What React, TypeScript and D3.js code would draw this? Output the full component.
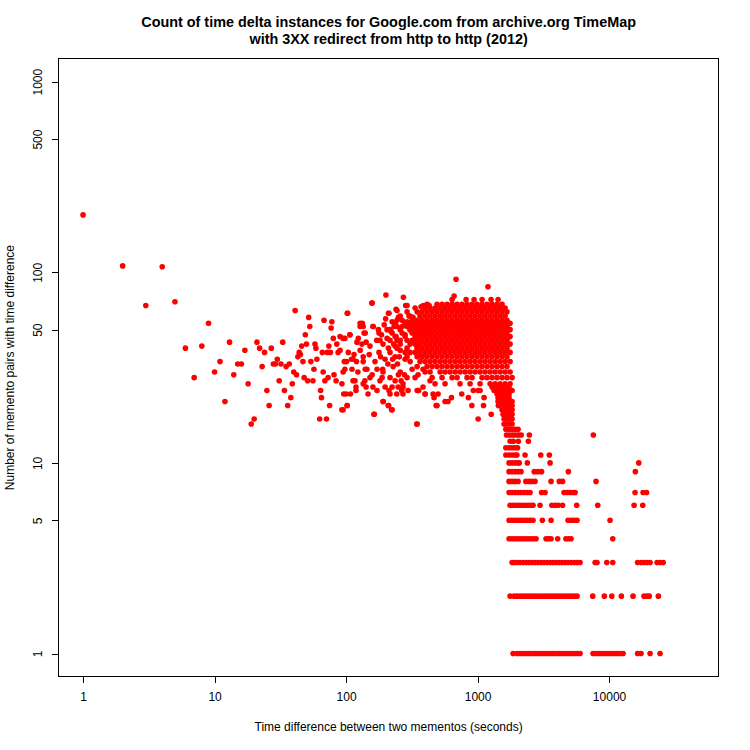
import * as d3 from "d3";
import { useEffect, useRef } from "react";

// values: [seconds between mementos, number of pairs]
const sparseLeft: [number, number][] = [
  [1, 200], [2, 108], [3, 67], [4, 107], [5, 70], [6, 40], [7, 28], [8, 41], [9, 54], [10, 30],
  [11, 34], [12, 21], [13, 43], [14, 29], [15, 33], [16, 33], [17, 39], [18, 26], [19, 16], [20, 17],
  [21, 43], [22, 40], [23, 32], [24, 38], [25, 24], [26, 20], [27, 40], [28, 33], [29, 33], [30, 35],
  [31, 27], [32, 33], [33, 43], [34, 24], [35, 32], [36, 20], [37, 33], [38, 22], [39, 26], [40, 30],
  [41, 63], [42, 29], [43, 36], [44, 38], [45, 37], [46, 41], [47, 34], [48, 28], [49, 47], [50, 42],
  [51, 27], [52, 58], [53, 52], [54, 34],
];

const midCloud: [number, number][] = [
  [56, 27], [57, 31], [58, 42], [59, 40], [60, 35], [63, 17], [64, 24], [65, 22], [66, 38], [67, 30],
  [68, 56], [69, 27], [71, 17], [72, 38], [73, 28], [74, 41], [75, 20], [76, 38], [77, 51], [78, 55],
  [80, 45], [81, 29], [84, 27], [85, 42], [87, 38], [90, 46], [93, 19], [95, 30], [96, 23], [98, 45],
  [100, 23], [101, 34], [102, 20], [103, 61], [107, 47], [108, 23], [110, 35], [115, 37], [117, 27],
  [119, 24], [120, 34], [124, 45], [128, 52], [132, 42], [133, 54], [135, 34], [137, 48], [139, 27],
  [142, 25], [144, 31], [152, 28], [157, 69], [161, 52], [164, 18], [171, 44], [172, 24], [176, 50],
  [181, 27], [190, 31], [192, 21], [201, 76], [210, 61], [211, 20], [212, 24], [222, 19], [236, 27],
  [240, 64], [243, 23], [265, 24], [273, 74], [284, 67], [335, 28], [345, 16], [357, 24], [387, 67],
  [399, 23], [102, 61], [158, 69], [212, 61], [244, 63], [291, 67], [301, 59], [372, 66], [428, 67],
  [128, 54], [135, 52], [160, 52], [178, 48], [205, 50], [224, 55], [244, 56], [267, 52], [291, 55],
  [323, 58], [353, 54], [95, 45], [107, 47], [121, 43], [140, 48], [142, 43], [152, 41], [181, 44],
  [191, 42], [216, 44], [236, 41], [258, 44], [281, 47], [307, 50], [335, 48], [378, 51], [90, 39],
  [104, 38], [113, 35], [128, 39], [135, 36], [150, 37], [166, 34], [178, 38], [198, 35], [216, 38],
  [236, 36], [258, 39], [281, 35], [307, 38], [347, 41], [378, 36], [97, 34], [98, 31], [111, 31],
  [123, 30], [140, 31], [158, 29], [172, 31], [191, 30], [216, 28], [228, 32], [258, 30], [291, 28],
  [318, 31], [353, 29], [385, 31], [93, 26], [113, 27], [119, 25], [135, 26], [147, 23], [160, 25],
  [188, 28], [198, 25], [216, 23], [224, 25], [249, 25], [271, 26], [296, 24], [347, 24], [385, 25],
  [435, 27], [95, 19], [102, 20], [191, 21], [209, 20], [224, 19], [163, 18], [347, 16], [459, 23],
  [492, 20], [200, 57], [205, 45], [210, 40], [220, 49], [226, 35], [232, 52], [240, 46], [246, 33],
  [250, 58], [254, 36], [230, 42], [208, 33], [195, 53], [186, 47], [183, 36], [250, 29], [262, 27],
  [278, 29],
];

const cloudEdge: [number, number][] = [
  [271, 25], [271, 23], [353, 24], [399, 23], [467, 22], [501, 23], [484, 20], [566, 21], [596, 21],
  [633, 22], [758, 23], [851, 22], [905, 20], [928, 24], [1010, 24], [1045, 24], [1121, 22],
  [1110, 20], [1270, 18], [1010, 17], [1440, 20], [663, 75], [686, 92], [1200, 84],
];

// the dense block: one list of seconds per count
const coreCounts = [72, 68, 65, 62, 59, 56, 54, 52, 50, 48, 46, 44, 42, 40, 38, 36, 34, 32, 30, 28, 26];
const coreSeconds: number[][] = [
  [640, 818, 941, 1082, 1267, 1432],
  [413, 492, 537, 586, 640, 699, 762, 832, 908, 991, 1082, 1181, 1289, 1407, 1536],
  [335, 399, 435, 475, 519, 566, 618, 675, 736, 804, 877, 957, 1045, 1140, 1245, 1359, 1483, 1619],
  [291, 347, 378, 413, 451, 492, 537, 586, 640, 699, 762, 832, 908, 991, 1082, 1181, 1289, 1407, 1536, 1676],
  [258, 307, 365, 399, 435, 475, 519, 566, 618, 675, 736, 804, 877, 957, 1045, 1140, 1245, 1359, 1483, 1619],
  [267, 318, 347, 378, 413, 451, 492, 537, 586, 640, 699, 762, 832, 908, 991, 1082, 1181, 1289, 1407, 1536, 1676],
  [236, 281, 307, 335, 365, 399, 435, 475, 519, 566, 618, 675, 736, 804, 877, 957, 1045, 1140, 1245, 1359, 1483, 1619, 1767],
  [244, 291, 318, 347, 378, 413, 451, 492, 537, 586, 640, 699, 762, 832, 908, 991, 1082, 1181, 1289, 1407, 1536, 1676],
  [216, 258, 307, 335, 365, 399, 435, 475, 519, 566, 618, 675, 736, 804, 877, 957, 1045, 1140, 1245, 1359, 1483, 1619, 1767],
  [224, 267, 318, 347, 378, 413, 451, 492, 537, 586, 640, 699, 762, 832, 908, 991, 1082, 1181, 1289, 1407, 1536, 1676],
  [236, 281, 335, 365, 399, 435, 475, 519, 566, 618, 675, 736, 804, 877, 957, 1045, 1140, 1245, 1359, 1483, 1619, 1767],
  [244, 291, 318, 347, 378, 413, 451, 492, 537, 586, 640, 699, 762, 832, 908, 991, 1082, 1181, 1289, 1407, 1536, 1676],
  [258, 307, 335, 365, 399, 435, 475, 519, 566, 618, 675, 736, 804, 877, 957, 1045, 1140, 1245, 1359, 1483, 1619, 1767],
  [244, 291, 347, 378, 413, 451, 492, 537, 586, 640, 699, 762, 832, 908, 991, 1082, 1181, 1289, 1407, 1536, 1676],
  [281, 335, 365, 399, 435, 475, 519, 566, 618, 675, 736, 804, 877, 957, 1045, 1140, 1245, 1359, 1483, 1619, 1767],
  [291, 347, 378, 413, 451, 492, 537, 586, 640, 699, 762, 832, 908, 991, 1082, 1181, 1289, 1407, 1536, 1676],
  [307, 365, 399, 435, 475, 519, 566, 618, 675, 736, 804, 877, 957, 1045, 1140, 1245, 1359, 1483, 1619, 1767],
  [347, 413, 451, 492, 537, 586, 640, 699, 762, 832, 908, 991, 1082, 1181, 1289, 1407, 1536, 1676],
  [399, 435, 519, 566, 618, 675, 736, 804, 877, 957, 1045, 1140, 1245, 1359, 1483, 1619, 1767],
  [451, 537, 640, 699, 832, 908, 1082, 1181, 1289, 1407, 1536, 1676, 1830],
  [475, 566, 736, 877, 1045, 1245, 1359, 1483, 1619, 1767],
];

// narrow tail where the counts fall off
const tailCounts = [25, 24, 23, 22, 21, 20, 19, 18, 17, 16, 15];
const tailSeconds: number[][] = [
  [1289, 1407, 1483, 1563, 1647, 1736],
  [1335, 1407, 1483, 1563, 1647, 1736, 1830],
  [1407, 1483, 1563, 1647, 1736],
  [1432, 1483, 1563, 1647, 1736],
  [1432, 1535, 1591, 1647, 1736, 1830],
  [1483, 1563, 1647, 1736, 1830],
  [1535, 1591, 1647, 1706, 1767, 1830],
  [1563, 1647, 1736, 1830],
  [1591, 1647, 1706, 1767, 1830],
  [1591, 1647, 1736, 1830],
  [1641, 1736, 1830, 1929, 2033],
];

// the horizontal bands of small counts
const lowCounts = [1, 2, 3, 4, 5, 6, 7, 8, 9, 10, 11, 12, 13, 14];
const lowSeconds: number[][] = [
  [1862, 1997, 2105, 2218, 2338, 2464, 2596, 2736, 2884, 3040, 3204, 3377, 3559, 3751, 3953, 4167, 4392,
    4629, 4878, 5141, 5419, 5711, 6019, 7553, 7962, 8393, 8846, 9324, 9826, 10357, 10915, 11505, 12126,
    12780, 16477, 17512, 20504, 24423],
  [1767, 1895, 1997, 2105, 2218, 2338, 2464, 2596, 2736, 2884, 3040, 3204, 3377, 3559, 3751, 3953, 4167,
    4392, 4629, 4878, 5141, 5419, 5711, 7516, 9211, 10484, 12406, 15220, 18454, 19453, 20200, 23708],
  [1830, 1895, 1997, 2105, 2218, 2338, 2464, 2596, 2736, 2884, 3040, 3204, 3377, 3559, 3751, 3953, 4167,
    4392, 4629, 4878, 5141, 5419, 5711, 6019, 7829, 8102, 9606, 10669, 16477, 17512, 18454, 19453,
    20504, 23175, 24423, 25800],
  [1736, 1830, 1929, 2033, 2142, 2258, 2379, 2507, 2642, 2785, 3318, 3466, 3622, 4066, 4694, 4921, 5141, 10669],
  [1736, 1830, 1929, 2033, 2142, 2258, 2379, 2507, 2642, 3110, 3622, 4878, 5141, 5419, 5711, 10177],
  [1767, 1862, 1963, 2068, 2180, 2297, 2421, 2551, 2642, 2987, 3673, 3885, 4095, 4430, 5671, 8202, 15497, 18039],
  [1736, 1830, 1929, 2033, 2142, 2258, 2379, 2507, 3067, 3260, 4548, 4794, 5052, 5324, 5514, 15771, 18136, 19284],
  [1736, 1830, 1929, 2033, 2330, 2464, 2596, 2736, 3622, 4183, 4430, 7962],
  [1736, 1830, 1929, 2033, 2142, 2698, 2873, 3067, 4904, 15848],
  [1736, 1830, 1929, 2033, 2075, 2392, 3559, 16823],
  [1641, 1736, 1830, 1929, 1991, 2297, 3024, 3516],
  [1641, 1736, 1830, 1929, 2015],
  [1767, 1868, 2043, 2434],
  [1661, 1751, 1848, 1946, 2050, 2149, 2477, 7593],
];

const xTicks = [1, 10, 100, 1000, 10000];
const yTicks = [1, 5, 10, 50, 100, 500, 1000];

const titleLines = [
  "Count of time delta instances for Google.com from archive.org TimeMap",
  "with 3XX redirect from http to http (2012)",
];
const xLabel = "Time difference between two mementos (seconds)";
const yLabel = "Number of memento pairs with time difference";

const font = "'Liberation Sans', Arial, Helvetica, sans-serif";

function rows(counts: number[], secs: number[][]): [number, number][] {
  return counts.flatMap((c, i) => secs[i].map((s) => [s, c] as [number, number]));
}

export default function App() {
  const ref = useRef<SVGSVGElement | null>(null);

  useEffect(() => {
    const svg = d3.select(ref.current);
    svg.selectAll("*").remove();

    const box = { left: 58.6, right: 718.6, top: 58.8, bottom: 676.4 };

    // log axes with R's 4% padding
    const x = d3
      .scaleLog()
      .domain([10 ** -0.186, 10 ** 4.833])
      .range([box.left, box.right]);
    const y = d3
      .scaleLog()
      .domain([10 ** -0.12, 10 ** 3.12])
      .range([box.bottom, box.top]);

    svg
      .append("rect")
      .attr("x", box.left)
      .attr("y", box.top)
      .attr("width", box.right - box.left)
      .attr("height", box.bottom - box.top)
      .attr("fill", "none")
      .attr("stroke", "#000")
      .attr("shape-rendering", "crispEdges");

    // x axis
    const gx = svg
      .append("g")
      .attr("transform", `translate(0,${box.bottom})`)
      .call(
        d3
          .axisBottom(x)
          .tickValues(xTicks)
          .tickFormat((d) => String(d))
          .tickSize(7)
          .tickPadding(9)
          .tickSizeOuter(0)
      );
    gx.select(".domain").remove();
    gx.attr("font-size", 12).attr("font-family", font);
    gx.selectAll("line").attr("stroke", "#000").attr("shape-rendering", "crispEdges");
    gx.selectAll("text").attr("fill", "#000");

    // y axis, labels turned like R's default
    const gy = svg
      .append("g")
      .attr("transform", `translate(${box.left},0)`)
      .call(
        d3
          .axisLeft(y)
          .tickValues(yTicks)
          .tickFormat((d) => String(d))
          .tickSize(7)
          .tickSizeOuter(0)
      );
    gy.select(".domain").remove();
    gy.attr("font-size", 12).attr("font-family", font);
    gy.selectAll("line").attr("stroke", "#000").attr("shape-rendering", "crispEdges");
    gy.selectAll("text")
      .attr("fill", "#000")
      .attr("x", 0)
      .attr("y", 0)
      .attr("dy", 0)
      .attr("text-anchor", "middle")
      .attr("transform", "translate(-17,0) rotate(-90)");

    // points
    const points = [
      ...sparseLeft,
      ...midCloud,
      ...cloudEdge,
      ...rows(coreCounts, coreSeconds),
      ...rows(tailCounts, tailSeconds),
      ...rows(lowCounts, lowSeconds),
    ];
    svg
      .append("g")
      .selectAll("circle")
      .data(points)
      .join("circle")
      .attr("cx", (d) => x(d[0]))
      .attr("cy", (d) => y(d[1]))
      .attr("r", 2.8)
      .attr("fill", "#ff0000");

    // titles
    const cx = (box.left + box.right) / 2;
    svg
      .append("g")
      .selectAll("text")
      .data(titleLines)
      .join("text")
      .attr("x", cx)
      .attr("y", (_, i) => 27 + i * 17)
      .attr("text-anchor", "middle")
      .attr("font-family", font)
      .attr("font-weight", "bold")
      .attr("font-size", 14.4)
      .text((d) => d);

    svg
      .append("text")
      .attr("x", cx)
      .attr("y", 731)
      .attr("text-anchor", "middle")
      .attr("font-family", font)
      .attr("font-size", 12)
      .text(xLabel);

    svg
      .append("text")
      .attr("transform", `translate(14,${(box.top + box.bottom) / 2}) rotate(-90)`)
      .attr("text-anchor", "middle")
      .attr("font-family", font)
      .attr("font-size", 12)
      .text(yLabel);
  }, []);

  return (
    <svg
      ref={ref}
      width={750}
      height={750}
      style={{ position: "fixed", left: 0, top: 0, background: "#fff" }}
    />
  );
}
